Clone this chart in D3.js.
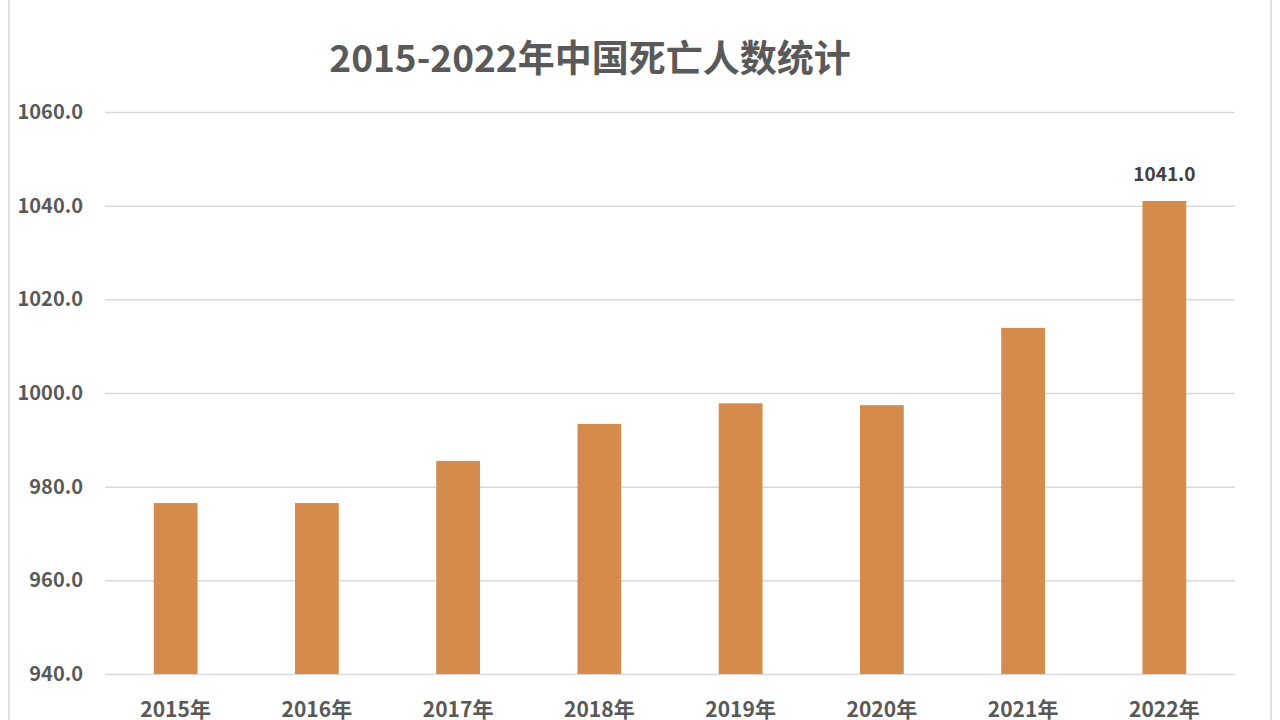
<!DOCTYPE html>
<html><head><meta charset="utf-8">
<script src="https://cdn.jsdelivr.net/npm/d3@7"></script>
<style>html,body{margin:0;padding:0;background:#fff;overflow:hidden}</style>
</head><body>
<svg id="c" width="1280" height="720"></svg>
<script>
const years = ["2015年","2016年","2017年","2018年","2019年","2020年","2021年","2022年"];
const deaths = [976.5, 976.5, 985.5, 993.4, 997.8, 997.4, 1013.9, 1041.0];
const yTicks = [940, 960, 980, 1000, 1020, 1040, 1060];
const labelled = ["2022年"];
const title = "2015-2022年中国死亡人数统计";

(function(){
const svg = d3.select("#c");
const font = "'Noto Sans CJK SC','Noto Sans',sans-serif";
const pl = 105, pr = 1235, pt = 112, pb = 674;

svg.append("rect").attr("x",0).attr("y",0).attr("width",1280).attr("height",720).attr("fill","#fff");
svg.append("line").attr("x1",9).attr("x2",9).attr("y1",0).attr("y2",720).attr("stroke","#d9d9d9").attr("stroke-width",1.5);
svg.append("line").attr("x1",1271).attr("x2",1271).attr("y1",0).attr("y2",720).attr("stroke","#d9d9d9").attr("stroke-width",1.5);

const x = d3.scaleBand().domain(years).range([pl, pr]).paddingInner(0.69).paddingOuter(0.345);
const y = d3.scaleLinear().domain([940, 1060]).range([pb, pt]);

const yAxis = d3.axisLeft(y).tickValues(yTicks).tickFormat(d3.format(".1f")).tickSize(-(pr-pl)).tickPadding(22);
const gy = svg.append("g").attr("transform",`translate(${pl},0)`).call(yAxis);
gy.select(".domain").remove();
gy.selectAll(".tick line").attr("stroke","#d9d9d9").attr("stroke-width",1.5);
gy.selectAll(".tick text").attr("fill","#595959").attr("font-family",font).attr("font-size",20).attr("font-weight",700);

svg.append("g").selectAll("rect").data(years).join("rect")
  .attr("x", d => x(d)).attr("width", x.bandwidth())
  .attr("y", (d,i) => y(deaths[i])).attr("height", (d,i) => y(940) - y(deaths[i]))
  .attr("fill","#d48b4b");

const xAxis = d3.axisBottom(x).tickSize(0).tickPadding(28);
const gx = svg.append("g").attr("transform",`translate(0,${pb})`).call(xAxis);
gx.select(".domain").remove();
gx.selectAll(".tick text").attr("fill","#595959").attr("font-family",font).attr("font-size",21).attr("font-weight",700);

svg.append("g").selectAll("text").data(years.filter(d => labelled.includes(d))).join("text")
  .attr("x", d => x(d) + x.bandwidth()/2)
  .attr("y", d => y(deaths[years.indexOf(d)]) - 20)
  .attr("text-anchor","middle").attr("fill","#404040")
  .attr("font-family",font).attr("font-size",19).attr("font-weight",700)
  .text(d => d3.format(".1f")(deaths[years.indexOf(d)]));

svg.append("text").attr("x",590).attr("y",72).attr("text-anchor","middle")
  .attr("fill","#595959").attr("font-family",font).attr("font-size",37).attr("font-weight",700)
  .text(title);
})();
</script>
</body></html>
